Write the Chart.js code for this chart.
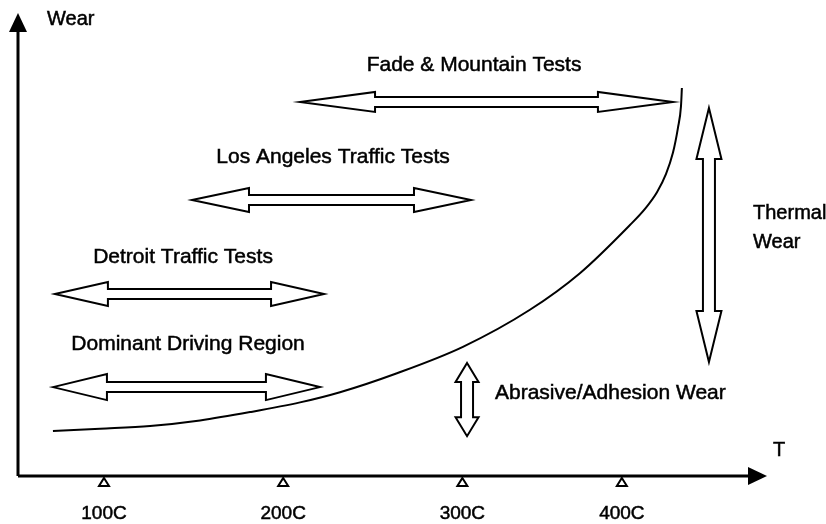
<!DOCTYPE html>
<html>
<head>
<meta charset="utf-8">
<title>Wear vs Temperature</title>
<script src="https://cdn.jsdelivr.net/npm/chart.js@4.4.0/dist/chart.umd.min.js"></script>
<style>
    html, body { margin: 0; padding: 0; background: #ffffff; }
    #wrap { width: 826px; height: 524px; }
</style>
</head>
<body>
<div id="wrap"><canvas id="wearChart" width="826" height="524"></canvas></div>
<script>
// wear curve, x = temperature (schematic), y = relative wear
const curveTemp = [71.5, 97.8, 125.7, 153.6, 181.5, 209.4, 231.7, 263.5, 300.3, 337.7, 365.6, 393.5, 401.9, 408.6, 413.6, 417.5, 420.3, 422.0, 422.5];
const curveWear = [9.7, 10.2, 10.8, 12.0, 13.8, 15.9, 18.1, 22.2, 27.9, 35.9, 43.8, 54.2, 57.7, 61.3, 65.2, 69.8, 75.2, 79.9, 83.8];

// temperature ticks on the T axis
const tickValues = [100, 200, 300, 389];
const tickLabels = ['100C', '200C', '300C', '400C'];

// horizontal range arrows: [from, to] in temperature, at a wear level
const rangeNames = ['Fade & Mountain Tests', 'Los Angeles Traffic Tests', 'Detroit Traffic Tests', 'Dominant Driving Region'];
const rangeFrom = [209.4, 149.1, 72.6, 71.5];
const rangeTo = [417.5, 304.8, 222.8, 220.5];
const rangeLevel = [80.8, 59.6, 39.3, 19.2];
const rangeLabelX = [306.5, 227.8, 144.1, 146.9];
const rangeLabelY = [88.8, 68.9, 47.3, 28.5];

// vertical wear bands: [low, high] wear at a temperature
const bandNames = [['Thermal', 'Wear'], ['Abrasive/Adhesion Wear']];
const bandTemp = [437.6, 302.6];
const bandLow = [24.6, 8.6];
const bandHigh = [79.5, 24.4];
const bandLabelX = [462.2, 318.2];
const bandLabelY = [[56.8, 50.5], [17.9]];

const FONT = '"Liberation Sans", Arial, Helvetica, sans-serif';

// slightly heavier text than a plain fill
function label(ctx, text, x, y) {
    ctx.fillText(text, x, y);
    ctx.strokeText(text, x, y);
}

// outline double arrow along x; head sizes in px
function drawHArrow(ctx, x1, x2, y, head, half, shaft) {
    ctx.beginPath();
    ctx.moveTo(x1, y);
    ctx.lineTo(x1 + head, y - half);
    ctx.lineTo(x1 + head, y - shaft);
    ctx.lineTo(x2 - head, y - shaft);
    ctx.lineTo(x2 - head, y - half);
    ctx.lineTo(x2, y);
    ctx.lineTo(x2 - head, y + half);
    ctx.lineTo(x2 - head, y + shaft);
    ctx.lineTo(x1 + head, y + shaft);
    ctx.lineTo(x1 + head, y + half);
    ctx.closePath();
    ctx.fillStyle = '#ffffff';
    ctx.fill();
    ctx.stroke();
}

function drawVArrow(ctx, x, y1, y2, head, half, shaft) {
    ctx.beginPath();
    ctx.moveTo(x, y1);
    ctx.lineTo(x + half, y1 + head);
    ctx.lineTo(x + shaft, y1 + head);
    ctx.lineTo(x + shaft, y2 - head);
    ctx.lineTo(x + half, y2 - head);
    ctx.lineTo(x, y2);
    ctx.lineTo(x - half, y2 - head);
    ctx.lineTo(x - shaft, y2 - head);
    ctx.lineTo(x - shaft, y1 + head);
    ctx.lineTo(x - half, y1 + head);
    ctx.closePath();
    ctx.fillStyle = '#ffffff';
    ctx.fill();
    ctx.stroke();
}

const rangeHeads = [[75, 10, 5], [57, 12, 5], [53, 12, 5], [54, 13, 5]];
const bandHeads = [[51, 12.5, 6], [19, 11.5, 6]];
const bandFont = ['20px ', '21px '];

const schematicPlugin = {
    id: 'schematic',
    beforeDatasetsDraw(chart) {
        const ctx = chart.ctx;
        const xs = chart.scales.x;
        const ys = chart.scales.y;
        const area = chart.chartArea;
        ctx.save();
        ctx.strokeStyle = '#000000';
        ctx.fillStyle = '#000000';

        // axes
        ctx.lineWidth = 3;
        ctx.beginPath();
        ctx.moveTo(area.left, area.bottom);
        ctx.lineTo(area.left, area.top + 18);
        ctx.moveTo(area.left, area.bottom);
        ctx.lineTo(area.right - 18, area.bottom);
        ctx.stroke();
        ctx.beginPath();
        ctx.moveTo(area.left, area.top);
        ctx.lineTo(area.left + 9, area.top + 19);
        ctx.lineTo(area.left - 9, area.top + 19);
        ctx.closePath();
        ctx.fill();
        ctx.beginPath();
        ctx.moveTo(area.right, area.bottom);
        ctx.lineTo(area.right - 19, area.bottom - 9);
        ctx.lineTo(area.right - 19, area.bottom + 9);
        ctx.closePath();
        ctx.fill();

        // axis titles
        ctx.lineWidth = 0.5;
        ctx.font = '20px ' + FONT;
        ctx.textBaseline = 'middle';
        ctx.textAlign = 'left';
        label(ctx, 'Wear', area.left + 29, area.top + 6);
        ctx.textAlign = 'center';
        label(ctx, 'T', area.right + 12, area.bottom - 26);

        // tick triangles and labels
        ctx.font = '19px ' + FONT;
        tickValues.forEach((v, i) => {
            const px = xs.getPixelForValue(v);
            ctx.lineWidth = 2;
            ctx.beginPath();
            ctx.moveTo(px, area.bottom + 2);
            ctx.lineTo(px + 5, area.bottom + 10);
            ctx.lineTo(px - 5, area.bottom + 10);
            ctx.closePath();
            ctx.stroke();
            ctx.lineWidth = 0.5;
            label(ctx, tickLabels[i], px, area.bottom + 38);
        });

        // range arrows and labels
        ctx.font = '21px ' + FONT;
        rangeNames.forEach((name, i) => {
            const h = rangeHeads[i];
            ctx.lineWidth = 2;
            drawHArrow(ctx, xs.getPixelForValue(rangeFrom[i]), xs.getPixelForValue(rangeTo[i]),
                ys.getPixelForValue(rangeLevel[i]), h[0], h[1], h[2]);
            ctx.fillStyle = '#000000';
            ctx.textAlign = 'center';
            ctx.lineWidth = 0.5;
            label(ctx, name, xs.getPixelForValue(rangeLabelX[i]), ys.getPixelForValue(rangeLabelY[i]));
        });

        // wear band arrows and labels
        bandNames.forEach((lines, i) => {
            const h = bandHeads[i];
            ctx.lineWidth = 2;
            drawVArrow(ctx, xs.getPixelForValue(bandTemp[i]), ys.getPixelForValue(bandHigh[i]),
                ys.getPixelForValue(bandLow[i]), h[0], h[1], h[2]);
            ctx.fillStyle = '#000000';
            ctx.textAlign = 'left';
            ctx.lineWidth = 0.5;
            ctx.font = bandFont[i] + FONT;
            lines.forEach((t, j) => {
                label(ctx, t, xs.getPixelForValue(bandLabelX[i]), ys.getPixelForValue(bandLabelY[i][j]));
            });
        });
        ctx.restore();
    }
};

new Chart(document.getElementById('wearChart').getContext('2d'), {
    type: 'line',
    data: {
        datasets: [{
            data: curveTemp.map((t, i) => ({ x: t, y: curveWear[i] })),
            borderColor: '#000000',
            borderWidth: 2,
            pointRadius: 0,
            fill: false,
            cubicInterpolationMode: 'monotone'
        }]
    },
    options: {
        responsive: false,
        animation: false,
        events: [],
        layout: {
            padding: { left: 18, right: 59, top: 13, bottom: 48 }
        },
        plugins: {
            legend: { display: false },
            tooltip: { enabled: false },
            title: { display: false }
        },
        scales: {
            x: { type: 'linear', min: 52, max: 470, display: false },
            y: { type: 'linear', min: 0, max: 100, display: false }
        }
    },
    plugins: [schematicPlugin]
});
</script>
</body>
</html>
